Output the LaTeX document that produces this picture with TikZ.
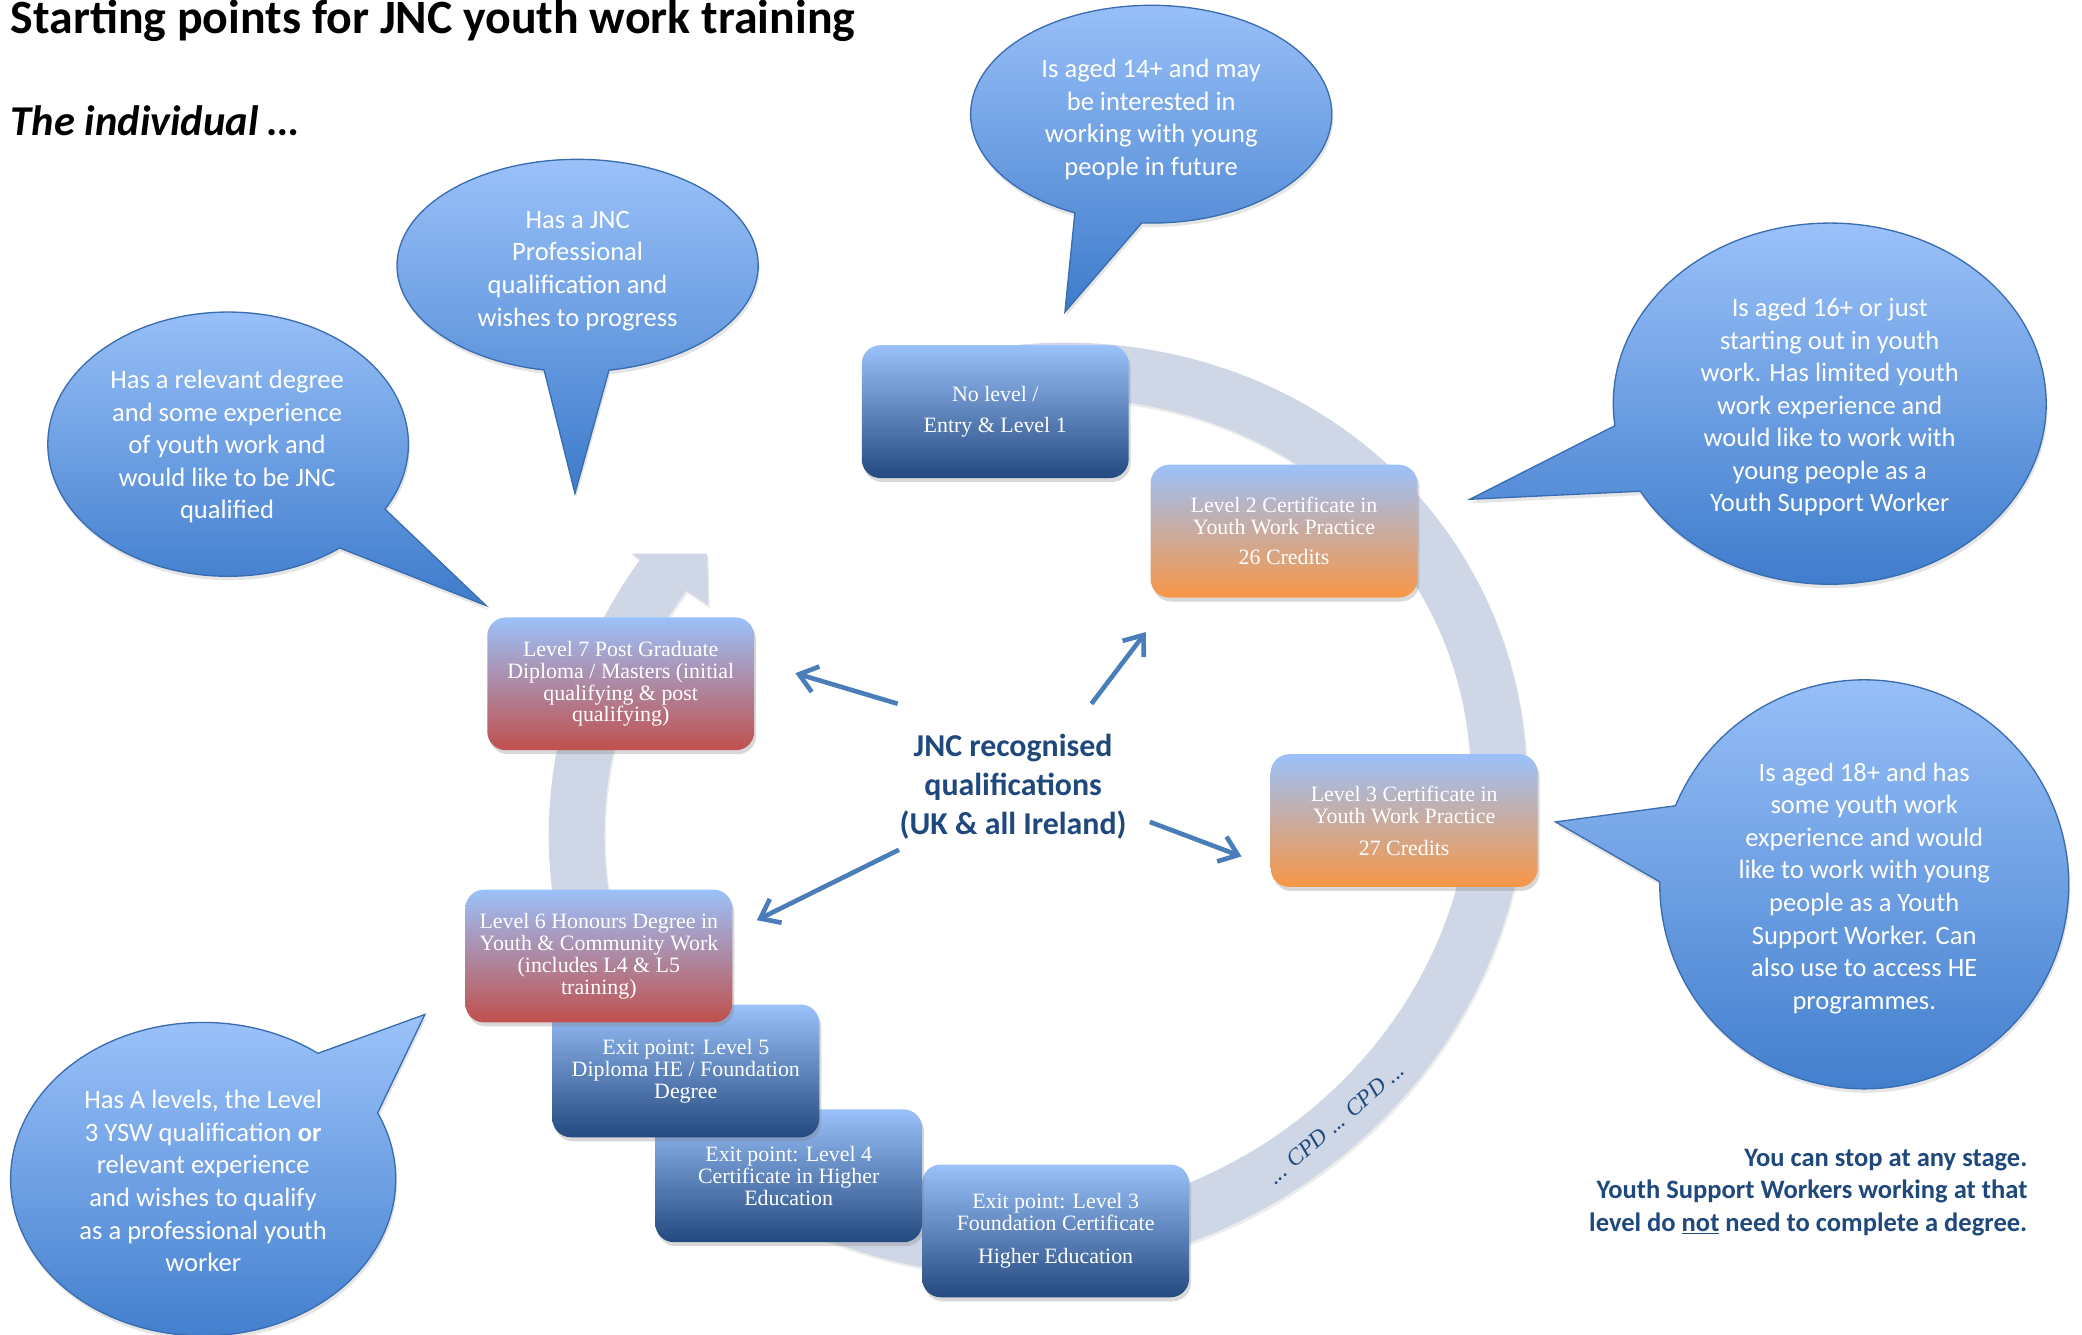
\documentclass[tikz,border=0pt]{standalone}
\usepackage{fontspec}
\setmainfont{Liberation Serif}
\newfontfamily\carl{Carlito}
\usetikzlibrary{arrows.meta,shadows}
\definecolor{boxtop}{RGB}{155,193,250}
\definecolor{boxdark}{RGB}{35,73,127}
\definecolor{boxorange}{RGB}{247,150,70}
\definecolor{boxred}{RGB}{192,80,77}
\definecolor{bubtop}{RGB}{157,195,250}
\definecolor{bubbot}{RGB}{61,123,203}
\definecolor{bubedge}{RGB}{58,108,176}
\definecolor{bandc}{RGB}{207,215,230}
\definecolor{navy}{RGB}{31,73,125}
\definecolor{arrowc}{RGB}{74,126,187}
\tikzset{
  qbox/.style={rounded corners=14pt, minimum width=201pt, minimum height=100pt, inner sep=0pt,
    text=white, align=center, font=\fontsize{16.5}{16.5}\selectfont,
    drop shadow={shadow xshift=1.5pt, shadow yshift=-3pt, opacity=.3}},
  darkq/.style={qbox, top color=boxtop, bottom color=boxdark},
  orangeq/.style={qbox, top color=boxtop, bottom color=boxorange},
  redq/.style={qbox, top color=boxtop, bottom color=boxred},
  bubble/.style={top color=bubtop, bottom color=bubbot, draw=bubedge, line width=1pt,
    drop shadow={shadow xshift=1pt, shadow yshift=-3pt, opacity=.2}},
  bubtext/.style={text=white, align=center, font=\carl\fontsize{20}{24.5}\selectfont, inner sep=0pt},
  conn/.style={draw=arrowc, line width=3.5pt, -{Straight Barb[length=13pt,width=20pt]}}
}
\begin{document}
\begin{tikzpicture}[x=1pt, y=-1pt]
\useasboundingbox (0,0) rectangle (1568,1005);
\fill[white] (0,0) rectangle (1568,1005);

% circular band arrow
\path[fill=bandc, drop shadow={shadow xshift=1pt, shadow yshift=-2pt, opacity=.15}]
  plot[domain=-80:239, samples=160, variable=\t]
    ({781.5+0.9063*373*cos(\t)+0.4226*346*sin(\t)},{609-0.4226*373*cos(\t)+0.9063*346*sin(\t)})
  -- (475.6,417) -- (532.6,417) -- (533.5,456)
  -- plot[domain=239:-80, samples=160, variable=\t]
    ({781.5+0.9063*331*cos(\t)+0.4226*304*sin(\t)},{609-0.4226*331*cos(\t)+0.9063*304*sin(\t)})
  -- cycle;
\node[rotate=40.7, text=navy, font=\itshape\fontsize{17.5}{17.5}\selectfont, inner sep=0pt] (cpd) at (1006,846) {... CPD ... CPD ...};

% boxes
\node[darkq] (b1) at (749.5,310) {No level /\\[6.5pt]Entry \& Level 1};
\node[orangeq] (b2) at (967,400) {Level 2 Certificate in\\Youth Work Practice\\[6.5pt]26 Credits};
\node[orangeq] (b3) at (1057.5,618) {Level 3 Certificate in\\Youth Work Practice\\[7.5pt]27 Credits};
\node[redq] (b4) at (467.5,515) {Level 7 Post Graduate\\Diploma / Masters (initial\\qualifying \& post\\qualifying)};
\node[darkq] (b8) at (795,927) {Exit point: Level 3\\Foundation Certificate\\[8pt]Higher Education};
\node[darkq] (b7) at (594,885.5) {Exit point: Level 4\\Certificate in Higher\\Education};
\node[darkq] (b6) at (516.5,806.5) {Exit point: Level 5\\Diploma HE / Foundation\\Degree};
\node[redq] (b5) at (451,720) {Level 6 Honours Degree in\\Youth \& Community Work\\(includes L4 \& L5\\training)};

% speech bubbles
\path[bubble] (802,235) -- ([shift={(867,86)}]115:136 and 82)
  arc[start angle=115, end angle=453, x radius=136, y radius=82] -- cycle;
\node[bubtext] (tA) at (867,90) {Is aged 14+ and may\\be interested in\\working with young\\people in future};

\path[bubble] (1107,376) -- ([shift={(1378,304)}]173:163 and 136)
  arc[start angle=173, end angle=511, x radius=163, y radius=136] -- cycle;
\node[bubtext] (tB) at (1378,306.5) {Is aged 16+ or just\\starting out in youth\\work. Has limited youth\\work experience and\\would like to work with\\young people as a\\Youth Support Worker};

\path[bubble] (1171.5,619) -- ([shift={(1404,666)}]202.6:154 and 154)
  arc[start angle=202.6, end angle=540.7, x radius=154, y radius=154] -- cycle;
\node[bubtext] (tC) at (1404,669) {Is aged 18+ and has\\some youth work\\experience and would\\like to work with young\\people as a Youth\\Support Worker. Can\\also use to access HE\\programmes.};

\path[bubble] (366,456) -- ([shift={(171.8,334.5)}]51.8:135.8 and 99.5)
  arc[start angle=51.8, end angle=389.5, x radius=135.8, y radius=99.5] -- cycle;
\node[bubtext] (tD) at (171,336.5) {Has a relevant degree\\and some experience\\of youth work and\\would like to be JNC\\qualified};

\path[bubble] (433,371.6) -- ([shift={(435,200)}]100.7:136 and 80)
  arc[start angle=100.7, end angle=440, x radius=136, y radius=80] -- cycle;
\node[bubtext] (tE) at (435,204) {Has a JNC\\Professional\\qualification and\\wishes to progress};

\path[bubble] (320,764) -- ([shift={(153,888)}]335:145 and 118)
  arc[start angle=335, end angle=666.6, x radius=145, y radius=118] -- cycle;
\node[bubtext] (tF) at (153,889.5) {Has A levels, the Level\\3 YSW qualification \textbf{or}\\relevant experience\\and wishes to qualify\\as a professional youth\\worker};

% centre text and arrows
\node[text=navy, font=\carl\bfseries\fontsize{24}{29.5}\selectfont, align=center, inner sep=0pt] (jnc) at (763,592.5) {JNC recognised\\qualifications\\(UK \& all Ireland)};
\coordinate (s7) at (676,530); \coordinate (e7) at (599,507);
\coordinate (s2) at (822,530); \coordinate (e2) at (863,476);
\coordinate (s3) at (866,619); \coordinate (e3) at (935,645);
\coordinate (s6) at (677,640); \coordinate (e6) at (570,693);
\draw[conn] (s7) -- (e7);
\draw[conn] (s2) -- (e2);
\draw[conn] (s3) -- (e3);
\draw[conn] (s6) -- (e6);

% titles and note
\node[anchor=base west, inner sep=0pt, font=\carl\bfseries\fontsize{36}{40}\selectfont] (title) at (8,25) {Starting points for JNC youth work training};
\node[anchor=base west, inner sep=0pt, font=\carl\bfseries\itshape\fontsize{32}{36}\selectfont] (indiv) at (8,102) {The individual …};
\node[text=navy, font=\carl\bfseries\fontsize{20}{24.5}\selectfont, align=right, anchor=east, inner sep=0pt] (note) at (1527,898) {You can stop at any stage.\\Youth Support Workers working at that\\level do \underline{not} need to complete a degree.};
\end{tikzpicture}
\end{document}
